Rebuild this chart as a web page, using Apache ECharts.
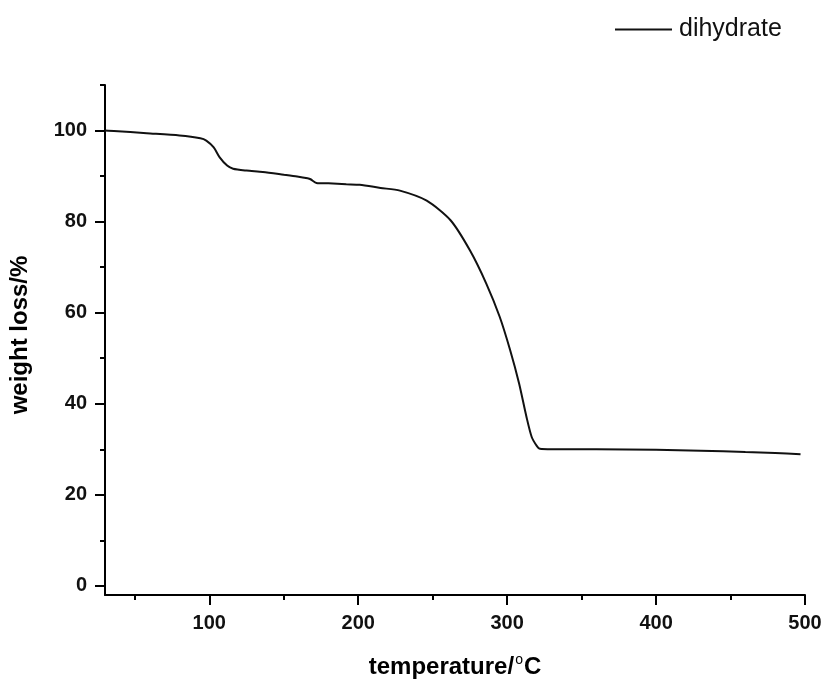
<!DOCTYPE html>
<html>
<head>
<meta charset="utf-8">
<script src="https://cdn.jsdelivr.net/npm/echarts@6/dist/echarts.min.js"></script>
<style>html,body{margin:0;padding:0;background:#fff;}#c{width:827px;height:684px;}</style>
</head>
<body>
<div id="c"></div>
<script>
const seriesName = 'dihydrate';
const temperature = [30, 36, 58, 80, 94, 98, 103, 107, 112, 116, 125, 136, 150, 159, 166, 168, 172, 180, 192, 201, 215, 228, 246, 262, 275, 286, 295, 302, 308, 313, 316.5, 320, 322, 330, 360, 400, 430, 460, 480, 497];
const weight =      [100, 99.9, 99.4, 98.9, 98.3, 97.8, 96.3, 94.1, 92.3, 91.6, 91.2, 90.9, 90.3, 89.9, 89.5, 89.3, 88.5, 88.4, 88.2, 88.1, 87.4, 86.8, 84.6, 80.3, 73.7, 66.4, 59.1, 51.8, 44.5, 37.1, 32.7, 30.7, 30.1, 30.0, 30.0, 29.9, 29.7, 29.4, 29.2, 28.9];
const xMajorTicks = [100, 200, 300, 400, 500];
const xMinorTicks = [50, 150, 250, 350, 450];
const yMajorTicks = [0, 20, 40, 60, 80, 100];
const yMinorTicks = [10, 30, 50, 70, 90, 110];
const xRange = [30, 500];
const yRange = [-2, 110];

const FONT = '"Liberation Sans", Arial, sans-serif';
const data = temperature.map((t, i) => [t, weight[i]]);
const chart = echarts.init(document.getElementById('c'), null, {renderer: 'canvas'});
const axisLine = {show: true, onZero: false, lineStyle: {color: '#000', width: 2}};
chart.setOption({
  animation: false,
  backgroundColor: '#fff',
  grid: {left: 105, right: 22, top: 85, bottom: 88},
  legend: {
    data: [{name: seriesName, icon: 'rect', itemStyle: {color: '#111'}}],
    left: 610, top: 12,
    itemWidth: 57, itemHeight: 2, itemGap: 0,
    textStyle: {fontFamily: FONT, fontSize: 25, color: '#111', padding: [0, 0, 0, 2]}
  },
  xAxis: [{
    type: 'value', min: xRange[0], max: xRange[1],
    axisLine: axisLine,
    splitLine: {show: false},
    axisTick: {show: true, inside: false, length: 10, customValues: xMajorTicks, lineStyle: {color: '#000', width: 2}},
    axisLabel: {customValues: xMajorTicks, margin: 18, fontFamily: FONT, fontSize: 20, fontWeight: 'bold', color: '#111', showMinLabel: true, showMaxLabel: true},
    name: '{a|temperature/}{s|o}{a|C}',
    nameLocation: 'middle', nameGap: 58,
    nameTextStyle: {
      rich: {
        a: {fontFamily: FONT, fontSize: 24, fontWeight: 'bold', color: '#000', lineHeight: 28},
        s: {fontFamily: FONT, fontSize: 14, fontWeight: 'normal', color: '#000', verticalAlign: 'top', lineHeight: 28, padding: [0, 1, 10, 1]}
      }
    }
  }, {
    type: 'value', min: xRange[0], max: xRange[1], position: 'bottom',
    axisLine: {show: false, onZero: false},
    splitLine: {show: false},
    axisLabel: {show: false},
    axisTick: {show: true, length: 5, customValues: xMinorTicks, lineStyle: {color: '#000', width: 2}}
  }],
  yAxis: [{
    type: 'value', min: yRange[0], max: yRange[1],
    axisLine: axisLine,
    splitLine: {show: false},
    axisTick: {show: true, length: 10, customValues: yMajorTicks, lineStyle: {color: '#000', width: 2}},
    axisLabel: {customValues: yMajorTicks, margin: 18, fontFamily: FONT, fontSize: 20, fontWeight: 'bold', color: '#111'},
    name: 'weight loss/%',
    nameLocation: 'middle', nameGap: 73, nameRotate: 90,
    nameTextStyle: {fontFamily: FONT, fontSize: 24, fontWeight: 'bold', color: '#000', padding: [0, 0, 0, 10]}
  }, {
    type: 'value', min: yRange[0], max: yRange[1], position: 'left',
    axisLine: {show: false, onZero: false},
    splitLine: {show: false},
    axisLabel: {show: false},
    axisTick: {show: true, length: 5, customValues: yMinorTicks, lineStyle: {color: '#000', width: 2}}
  }],
  series: [{
    name: seriesName, type: 'line', data: data,
    xAxisIndex: 0, yAxisIndex: 0,
    symbol: 'none', smooth: 0.25,
    lineStyle: {color: '#111', width: 2}, itemStyle: {color: '#111'}
  }]
});
</script>
</body>
</html>
